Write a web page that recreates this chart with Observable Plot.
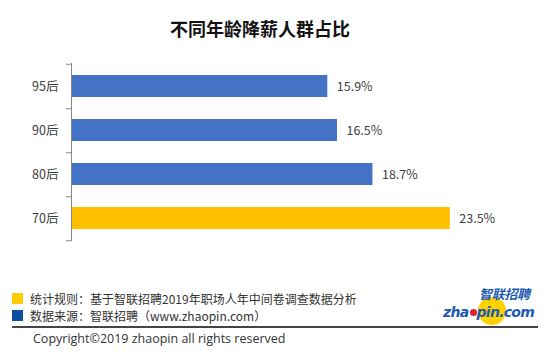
<!DOCTYPE html>
<html>
<head>
<meta charset="utf-8">
<script src="https://cdn.jsdelivr.net/npm/d3@7"></script>
<script src="https://cdn.jsdelivr.net/npm/@observablehq/plot@0.6"></script>
<style>
  html, body { margin: 0; padding: 0; background: #fff; }
  #wrap { position: relative; width: 550px; height: 354px; overflow: hidden; font-family: "Noto Sans CJK SC", "Noto Sans", sans-serif; }
  #title { position: absolute; left: 0; width: 520px; top: 16px; text-align: center; font-size: 18px; font-weight: bold; color: #111; line-height: 24px; }
  #chart { position: absolute; left: 0; top: 50px; }
  .sq { position: absolute; left: 12px; width: 11px; height: 11px; }
  .note { position: absolute; left: 30px; font-size: 12px; color: #333; line-height: 16px; white-space: nowrap; }
  #line { position: absolute; left: 12px; width: 526px; top: 326px; height: 2px; background: #444; }
  #copy { position: absolute; left: 33px; top: 331px; font-size: 12.5px; color: #333; line-height: 16px; font-family: "Open Sans", "Noto Sans", sans-serif; }
  #logo { position: absolute; left: 440px; top: 287px; width: 100px; height: 39px; }
  #circ { position: absolute; left: 38px; top: 10px; width: 28px; height: 28px; border-radius: 50%; background: #FFD200; }
  #dot { position: absolute; left: 30px; top: 22px; width: 7px; height: 7px; border-radius: 50%; background: #D7262B; }
  #lcn { position: absolute; left: 39px; top: 0px; font-size: 13px; font-weight: bold; font-style: italic; color: #1D5BB0; line-height: 13px; letter-spacing: -0.3px; }
  #len { position: absolute; left: 3px; top: 18px; font-size: 14px; font-weight: bold; font-style: italic; color: #1D5BB0; line-height: 15px; font-family: "DejaVu Sans", sans-serif; letter-spacing: -0.7px; white-space: nowrap; }
</style>
</head>
<body>
<div id="wrap">
  <div id="title"></div>
  <div id="chart"></div>
  <div class="sq" style="top:293px;background:#FFCC00"></div>
  <div class="note" id="n1" style="top:291px"></div>
  <div class="sq" style="top:310px;background:#0D4FA3"></div>
  <div class="note" id="n2" style="top:308px"></div>
  <div id="logo">
    <div id="circ"></div>
    <div id="lcn">智联招聘</div>
    <div id="len">zha<span style="display:inline-block;width:8px"></span>pin.com</div>
    <div id="dot"></div>
  </div>
  <div id="line"></div>
  <div id="copy"></div>
</div>
<script>
const title = "不同年龄降薪人群占比";
const categories = ["95后", "90后", "80后", "70后"];
const values = [15.9, 16.5, 18.7, 23.5];
const barColors = ["#4472C4", "#4472C4", "#4472C4", "#FFC000"];
const notes = ["统计规则：基于智联招聘2019年职场人年中间卷调查数据分析", "数据来源：智联招聘（www.zhaopin.com）"];
const copyright = "Copyright©2019 zhaopin all rights reserved";

document.getElementById("title").textContent = title;
document.getElementById("n1").textContent = notes[0];
document.getElementById("n2").textContent = notes[1];
document.getElementById("copy").textContent = copyright;

const data = categories.map((c, i) => ({cat: c, value: values[i], color: barColors[i]}));

const height = 210, marginTop = 13, marginBottom = 19;
const step = (height - marginTop - marginBottom) / categories.length;

const chart = Plot.plot({
  width: 550,
  height,
  marginTop,
  marginBottom,
  marginLeft: 71,
  marginRight: 76,
  style: {fontFamily: "'Noto Sans CJK SC', 'Noto Sans', sans-serif", fontSize: "12.5px", background: "transparent"},
  x: {domain: [0, 25], axis: null},
  y: {domain: categories, paddingInner: 0.5, paddingOuter: 0.25, label: null},
  color: {type: "identity"},
  marks: [
    Plot.barX(data, {y: "cat", x: "value", fill: "color"}),
    Plot.text(data, {y: "cat", x: "value", text: d => d.value.toFixed(1) + "%", textAnchor: "start", dx: 9, fill: "#404040", fontSize: 12.5}),
    Plot.ruleX([0], {stroke: "#888"}),
    Plot.axisY({tickSize: 0, tickPadding: 13, fill: "#404040", fontSize: 12.5, label: null}),
    Plot.axisY(categories, {tickSize: 5, text: null, dy: step / 2, stroke: "#888", label: null}),
    Plot.axisY([categories[0]], {tickSize: 5, text: null, dy: -step / 2, stroke: "#888", label: null})
  ]
});
document.getElementById("chart").appendChild(chart);
</script>
</body>
</html>
